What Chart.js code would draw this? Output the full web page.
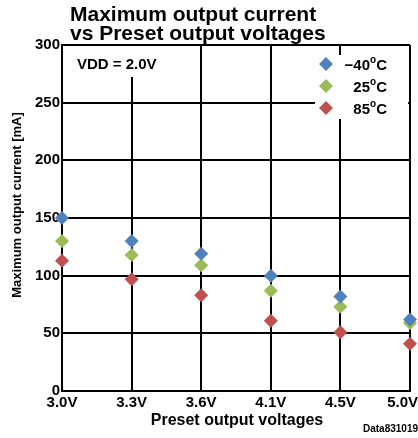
<!DOCTYPE html>
<html>
<head>
<meta charset="utf-8">
<script src="https://cdn.jsdelivr.net/npm/chart.js@4"></script>
<style>
  html, body { margin: 0; padding: 0; background: #fff; }
  #wrap { width: 418px; height: 438px; }
</style>
</head>
<body>
<div id="wrap"><canvas id="chart" width="418" height="438"></canvas></div>
<script>
const voltages = ["3.0V", "3.3V", "3.6V", "4.1V", "4.5V", "5.0V"]
const minus40 = [150, 130, 119, 100, 82, 62]
const plus25 = [130, 118, 109, 87, 73, 59]
const plus85 = [113, 97, 83, 61, 51, 41]
const seriesNames = ["\u221240", "25", "85"]
const seriesColors = ["#4f81bd", "#9bbb59", "#c0504d"]

const FONT = "'Liberation Sans', Arial, sans-serif"
const ctx = document.querySelector("#chart")

const dataset = (i, values) => ({
    label: seriesNames[i] + "°C",
    data: values,
    showLine: false,
    pointStyle: "rectRot",
    pointRadius: 7,
    pointHoverRadius: 7,
    pointBackgroundColor: seriesColors[i],
    pointBorderColor: seriesColors[i],
    pointBorderWidth: 0,
    clip: false,
})

// text that the axes can't place where the original has it
const decorations = {
    id: "decorations",
    beforeDatasetsDraw(chart) {
        const c = chart.ctx
        c.save()
        // white boxes behind the in-plot labels
        c.fillStyle = "#fff"
        c.fillRect(64, 46, 96, 31)
        c.fillRect(315, 55, 93, 64)
        c.restore()
    },
    afterDraw(chart) {
        const c = chart.ctx
        const {x} = chart.scales
        c.save()
        c.fillStyle = "#000"

        // title
        c.font = `bold 21px ${FONT}`
        c.textAlign = "left"
        c.textBaseline = "alphabetic"
        c.fillText("Maximum output current", 70, 21)
        c.fillText("vs Preset output voltages", 70, 40)

        // condition note
        c.font = `bold 15px ${FONT}`
        c.fillText("VDD = 2.0V", 77, 69)

        // legend
        const rowY = [64, 86, 108]
        rowY.forEach((y, i) => {
            c.fillStyle = seriesColors[i]
            c.beginPath()
            c.moveTo(326, y - 7)
            c.lineTo(333, y)
            c.lineTo(326, y + 7)
            c.lineTo(319, y)
            c.closePath()
            c.fill()

            c.fillStyle = "#000"
            c.font = `bold 15px ${FONT}`
            c.textAlign = "left"
            const cw = c.measureText("C").width
            c.font = `bold 10px ${FONT}`
            const ow = c.measureText("o").width
            c.font = `bold 15px ${FONT}`
            const nw = c.measureText(seriesNames[i]).width
            const right = 387
            const start = right - cw - ow - nw
            c.fillText(seriesNames[i], start, y + 6)
            c.font = `bold 10px ${FONT}`
            c.fillText("o", start + nw, y - 1)
            c.font = `bold 15px ${FONT}`
            c.fillText("C", start + nw + ow, y + 6)
        })

        // x tick labels, last one kept inside the canvas
        c.font = `bold 15px ${FONT}`
        c.textAlign = "center"
        c.textBaseline = "middle"
        voltages.forEach((label, i) => {
            const w = c.measureText(label).width
            const px = Math.min(x.getPixelForTick(i), chart.width - w / 2)
            c.fillText(label, px, 403)
        })

        // axis titles
        c.font = `bold 16px ${FONT}`
        c.fillText("Preset output voltages", 237, 421)

        c.save()
        c.translate(17, 205)
        c.rotate(-Math.PI / 2)
        c.font = `bold 13px ${FONT}`
        c.fillText("Maximum output current [mA]", 0, 0)
        c.restore()

        // figure id
        c.font = `bold 10px ${FONT}`
        c.textAlign = "right"
        c.fillText("Data831019", 418, 429)
        c.restore()
    }
}

new Chart(ctx, {
    type: "line",
    data: {
        labels: voltages,
        datasets: [dataset(0, minus40), dataset(1, plus25), dataset(2, plus85)]
    },
    options: {
        responsive: false,
        animation: false,
        layout: {
            padding: {top: 45, right: 8, left: 0, bottom: 0}
        },
        scales: {
            x: {
                type: "category",
                offset: false,
                grid: {color: "#000", lineWidth: 2, drawTicks: false},
                border: {color: "#000", width: 2},
                ticks: {display: false},
                afterFit: (s) => { s.height = 47 }
            },
            y: {
                min: 0,
                max: 300,
                grid: {color: "#000", lineWidth: 2, drawTicks: false},
                border: {color: "#000", width: 2},
                ticks: {
                    stepSize: 50,
                    padding: 2,
                    color: "#000",
                    font: {family: FONT, size: 15, weight: "bold"}
                },
                afterFit: (s) => { s.width = 62 }
            }
        },
        plugins: {
            legend: {display: false},
            tooltip: {enabled: false}
        }
    },
    plugins: [decorations]
})
</script>
</body>
</html>
